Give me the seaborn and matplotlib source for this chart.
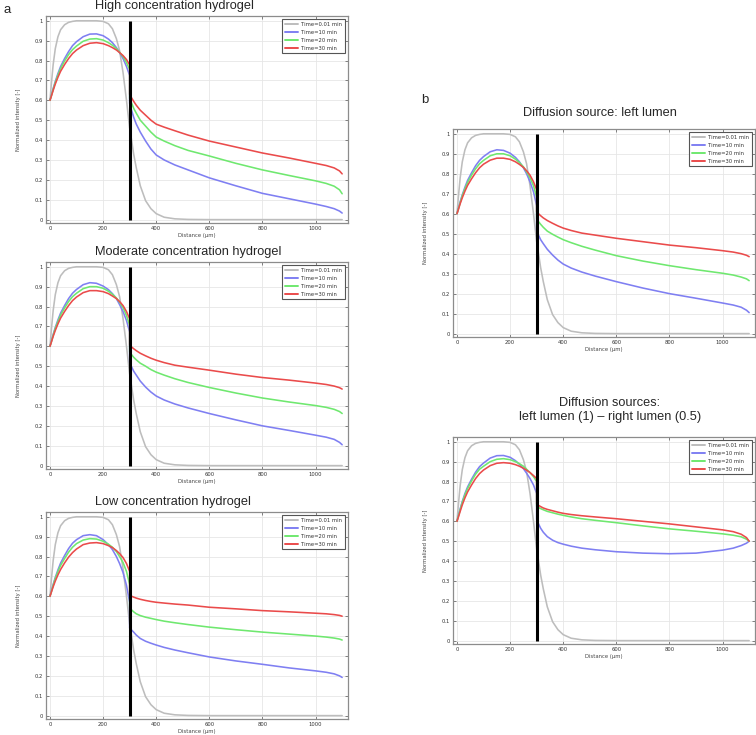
import pandas as pd
import matplotlib
matplotlib.use("Agg")
import matplotlib.pyplot as plt
import seaborn as sns

# distance grid (µm); 300 appears twice for the jump at the interface
distance = [0, 5, 12, 20, 30, 40, 55, 70, 85, 100, 125, 150, 175, 200, 220, 235, 250, 262, 275, 288, 300,
            300, 306, 315, 325, 340, 360, 380, 400, 430, 470, 520, 600, 700, 800, 900, 1000, 1040, 1070, 1090, 1100]
interface_x = 300

series_labels = ["Time=0.01 min", "Time=10 min", "Time=20 min", "Time=30 min"]
series_colors = ["#bdbdbd", "#7f7ff2", "#6fe86f", "#ea4b4b"]

# t = 0.01 min (same in every panel)
gray_t001 = [0.60, 0.68, 0.78, 0.86, 0.92, 0.955, 0.98, 0.992, 0.997, 1.0, 1.0, 1.0, 1.0, 0.997, 0.985, 0.96, 0.91, 0.85, 0.74, 0.60, 0.46,
             0.46, 0.41, 0.33, 0.26, 0.17, 0.095, 0.055, 0.03, 0.012, 0.004, 0.001, 0, 0, 0, 0, 0, 0, 0, 0, 0]

# High concentration hydrogel
blue_hi = [0.60, 0.625, 0.66, 0.695, 0.735, 0.77, 0.81, 0.845, 0.875, 0.895, 0.92, 0.933, 0.934, 0.925, 0.908, 0.89, 0.865, 0.84, 0.81, 0.77, 0.725,
           0.585, 0.555, 0.515, 0.48, 0.44, 0.395, 0.355, 0.325, 0.30, 0.275, 0.25, 0.21, 0.17, 0.132, 0.105, 0.078, 0.066, 0.055, 0.043, 0.033]
green_hi = [0.60, 0.622, 0.655, 0.69, 0.727, 0.76, 0.798, 0.83, 0.855, 0.873, 0.897, 0.908, 0.91, 0.903, 0.89, 0.877, 0.86, 0.842, 0.82, 0.79, 0.755,
            0.61, 0.59, 0.56, 0.535, 0.50, 0.47, 0.44, 0.415, 0.395, 0.372, 0.348, 0.32, 0.283, 0.25, 0.222, 0.195, 0.182, 0.168, 0.15, 0.13]
red_hi = [0.60, 0.62, 0.65, 0.682, 0.716, 0.746, 0.78, 0.81, 0.835, 0.853, 0.875, 0.887, 0.89, 0.885, 0.875, 0.865, 0.853, 0.84, 0.825, 0.805, 0.778,
          0.63, 0.615, 0.595, 0.575, 0.55, 0.525, 0.50, 0.48, 0.465, 0.447, 0.425, 0.395, 0.365, 0.335, 0.31, 0.283, 0.272, 0.26, 0.245, 0.23]

# Moderate concentration hydrogel
blue_mod = [0.60, 0.625, 0.66, 0.695, 0.733, 0.767, 0.805, 0.84, 0.867, 0.886, 0.91, 0.92, 0.917, 0.903, 0.885, 0.865, 0.84, 0.81, 0.775, 0.73, 0.672,
            0.52, 0.50, 0.475, 0.455, 0.425, 0.395, 0.37, 0.35, 0.33, 0.31, 0.29, 0.262, 0.23, 0.20, 0.177, 0.153, 0.143, 0.132, 0.117, 0.105]
green_mod = [0.60, 0.622, 0.655, 0.69, 0.725, 0.757, 0.793, 0.825, 0.85, 0.867, 0.89, 0.90, 0.90, 0.892, 0.877, 0.862, 0.843, 0.822, 0.795, 0.755, 0.705,
             0.57, 0.56, 0.545, 0.532, 0.515, 0.50, 0.483, 0.47, 0.455, 0.437, 0.418, 0.393, 0.365, 0.34, 0.32, 0.302, 0.293, 0.283, 0.272, 0.262]
red_mod = [0.60, 0.62, 0.65, 0.68, 0.713, 0.742, 0.775, 0.805, 0.83, 0.848, 0.87, 0.88, 0.88, 0.875, 0.865, 0.853, 0.84, 0.825, 0.805, 0.775, 0.738,
           0.605, 0.598, 0.588, 0.578, 0.565, 0.552, 0.54, 0.53, 0.518, 0.505, 0.495, 0.48, 0.46, 0.443, 0.43, 0.415, 0.408, 0.40, 0.392, 0.385]

# Low concentration hydrogel
blue_low = [0.60, 0.625, 0.66, 0.695, 0.733, 0.767, 0.805, 0.84, 0.867, 0.885, 0.905, 0.91, 0.905, 0.885, 0.86, 0.835, 0.80, 0.765, 0.72, 0.655, 0.57,
            0.44, 0.432, 0.42, 0.405, 0.388, 0.374, 0.364, 0.355, 0.343, 0.33, 0.316, 0.295, 0.275, 0.258, 0.24, 0.225, 0.218, 0.21, 0.20, 0.192]
green_low = [0.60, 0.622, 0.655, 0.69, 0.725, 0.755, 0.79, 0.822, 0.847, 0.865, 0.883, 0.89, 0.888, 0.877, 0.862, 0.847, 0.825, 0.80, 0.77, 0.725, 0.66,
             0.54, 0.533, 0.522, 0.512, 0.503, 0.495, 0.489, 0.483, 0.475, 0.467, 0.458, 0.445, 0.432, 0.42, 0.41, 0.40, 0.395, 0.39, 0.385, 0.38]
red_low = [0.60, 0.62, 0.648, 0.677, 0.708, 0.735, 0.768, 0.797, 0.82, 0.838, 0.86, 0.868, 0.87, 0.865, 0.855, 0.845, 0.83, 0.815, 0.795, 0.765, 0.725,
           0.605, 0.601, 0.596, 0.591, 0.585, 0.579, 0.574, 0.57, 0.566, 0.561, 0.556, 0.545, 0.537, 0.528, 0.522, 0.515, 0.512, 0.508, 0.504, 0.50]

# Diffusion source: left lumen
blue_left = [0.60, 0.625, 0.66, 0.695, 0.733, 0.767, 0.805, 0.84, 0.867, 0.886, 0.91, 0.92, 0.917, 0.903, 0.882, 0.86, 0.83, 0.80, 0.76, 0.71, 0.64,
             0.515, 0.495, 0.47, 0.45, 0.422, 0.393, 0.368, 0.348, 0.328, 0.308, 0.288, 0.26, 0.228, 0.20, 0.177, 0.153, 0.143, 0.132, 0.117, 0.105]
green_left = [0.60, 0.622, 0.655, 0.69, 0.725, 0.757, 0.793, 0.825, 0.85, 0.867, 0.89, 0.90, 0.90, 0.89, 0.873, 0.856, 0.835, 0.81, 0.78, 0.74, 0.683,
              0.575, 0.562, 0.547, 0.532, 0.513, 0.497, 0.483, 0.47, 0.455, 0.437, 0.418, 0.39, 0.363, 0.34, 0.32, 0.302, 0.293, 0.283, 0.274, 0.265]
red_left = [0.60, 0.62, 0.65, 0.68, 0.713, 0.742, 0.775, 0.805, 0.83, 0.848, 0.868, 0.878, 0.878, 0.872, 0.86, 0.847, 0.832, 0.815, 0.793, 0.76, 0.72,
            0.61, 0.601, 0.59, 0.579, 0.566, 0.552, 0.539, 0.528, 0.516, 0.503, 0.493, 0.477, 0.46, 0.443, 0.43, 0.415, 0.408, 0.40, 0.392, 0.385]

# Diffusion sources: left lumen (1) - right lumen (0.5)
blue_both = [0.60, 0.627, 0.663, 0.70, 0.74, 0.773, 0.812, 0.847, 0.875, 0.893, 0.918, 0.93, 0.931, 0.922, 0.905, 0.887, 0.865, 0.842, 0.815, 0.783, 0.74,
             0.61, 0.59, 0.565, 0.545, 0.523, 0.505, 0.493, 0.485, 0.475, 0.465, 0.457, 0.447, 0.44, 0.437, 0.44, 0.455, 0.465, 0.478, 0.49, 0.50]
green_both = [0.60, 0.625, 0.658, 0.695, 0.733, 0.765, 0.803, 0.837, 0.862, 0.877, 0.90, 0.912, 0.915, 0.91, 0.90, 0.89, 0.877, 0.862, 0.845, 0.825, 0.80,
              0.675, 0.67, 0.664, 0.658, 0.65, 0.643, 0.636, 0.63, 0.622, 0.613, 0.605, 0.593, 0.577, 0.562, 0.55, 0.537, 0.53, 0.522, 0.51, 0.50]
red_both = [0.60, 0.62, 0.65, 0.683, 0.718, 0.748, 0.783, 0.815, 0.84, 0.858, 0.88, 0.892, 0.895, 0.892, 0.885, 0.877, 0.867, 0.857, 0.845, 0.83, 0.815,
            0.687, 0.681, 0.674, 0.667, 0.66, 0.653, 0.646, 0.64, 0.634, 0.628, 0.622, 0.613, 0.60, 0.587, 0.572, 0.557, 0.548, 0.535, 0.518, 0.50]

sns.set_style("white")
plt.rcParams["font.family"] = ["DejaVu Sans"]

W, H = 756, 735
fig = plt.figure(figsize=(W / 100, H / 100), dpi=100)


def rect(l, t, r, b):
    return [l / W, 1 - b / H, (r - l) / W, (b - t) / H]


panels = [
    (rect(46, 16, 348, 223), "High concentration hydrogel", (0.162, 0.05), "left",
     [gray_t001, blue_hi, green_hi, red_hi]),
    (rect(46, 262, 348, 469), "Moderate concentration hydrogel", (0.162, 0.05), "left",
     [gray_t001, blue_mod, green_mod, red_mod]),
    (rect(46, 512, 348, 719), "Low concentration hydrogel", (0.162, 0.05), "left",
     [gray_t001, blue_low, green_low, red_low]),
    (rect(453, 129, 755, 337), "Diffusion source: left lumen", (0.487, 0.078), "center",
     [gray_t001, blue_left, green_left, red_left]),
    (rect(453, 437, 755, 644), "Diffusion sources:\nleft lumen (1) \u2013 right lumen (0.5)", (0.52, 0.13), "center",
     [gray_t001, blue_both, green_both, red_both]),
]

for pos, title, (tx, ty), tha, curves in panels:
    ax = fig.add_axes(pos)
    df = pd.DataFrame({
        "Distance": distance * len(curves),
        "value": [v for c in curves for v in c],
        "series": [lab for lab in series_labels for _ in distance],
    })
    sns.lineplot(data=df, x="Distance", y="value", hue="series", hue_order=series_labels,
                 palette=series_colors, estimator=None, sort=False, lw=1.15, ax=ax)
    ax.vlines(interface_x, 0, 1, color="black", lw=2.2, zorder=5)

    ax.set_xlim(-15, 1122)
    ax.set_ylim(-0.017, 1.024)
    ax.set_xticks([0, 200, 400, 600, 800, 1000])
    ax.set_yticks([i / 10 for i in range(11)])
    ax.set_yticklabels(["0"] + [f"{i / 10:.1f}" for i in range(1, 10)] + ["1"])
    ax.grid(True, color="#e6e6e6", lw=0.6)
    ax.tick_params(direction="in", length=2, width=0.5, labelsize=3.8, pad=2,
                   colors="#555555", labelcolor="#333333",
                   top=True, right=True, bottom=True, left=True)
    for s in ax.spines.values():
        s.set_color("#8c8c8c")
        s.set_linewidth(0.9)
    ax.set_xlabel("Distance (\u00b5m)", fontsize=3.8, color="#444444", labelpad=1.5)
    ax.set_ylabel("Normalized intensity [-]", fontsize=3.8, color="#444444", labelpad=10)

    leg = ax.get_legend()
    handles = leg.legend_handles
    labels = [t.get_text() for t in leg.get_texts()]
    for h in handles:
        h.set_linewidth(1.4)
    ax.legend(handles, labels, loc="upper right", fontsize=3.8, frameon=True, fancybox=False,
              framealpha=1, edgecolor="#555555", handlelength=2.6, labelspacing=0.6,
              borderpad=0.45, borderaxespad=0.6, handletextpad=0.6, labelcolor="#333333")
    ax.get_legend().get_frame().set_linewidth(0.8)

    ax.text(tx, 1 + ty, title, transform=ax.transAxes, ha=tha, va="center",
            fontsize=9.2, family="Liberation Sans", multialignment="center")

fig.text(3 / W, 1 - 10 / H, "a", fontsize=9.5, family="Liberation Sans", va="center")
fig.text(421 / W, 1 - 100 / H, "b", fontsize=9.5, family="Liberation Sans", va="center")

fig.savefig("out.png", dpi=100)
